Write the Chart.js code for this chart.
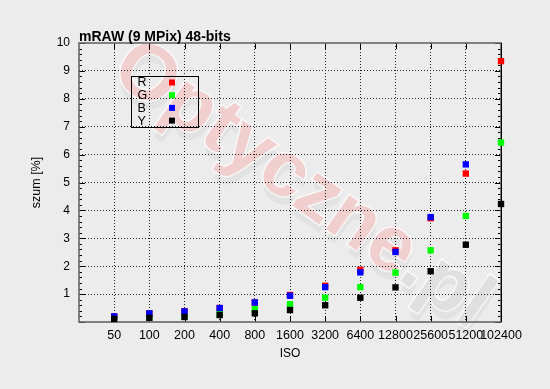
<!DOCTYPE html>
<html>
<head>
<meta charset="utf-8">
<script src="https://cdn.jsdelivr.net/npm/chart.js@4/dist/chart.umd.min.js"></script>
<style>
  html, body { margin: 0; padding: 0; background: #ececec; }
  #chart { display: block; }
</style>
</head>
<body>
<canvas id="chart" width="550" height="389"></canvas>
<script>
// ISO categories and noise values [%]
const isoLabels = ['50', '100', '200', '400', '800', '1600', '3200', '6400', '12800', '25600', '51200', '102400'];
const seriesNames = ['R', 'G', 'B', 'Y'];
const seriesColors = ['#ff0000', '#00ff00', '#0000ff', '#000000'];
const noiseR = [0.20, 0.31, 0.38, 0.50, 0.70, 0.97, 1.30, 1.87, 2.57, 3.72, 5.32, 9.35];
const noiseG = [0.12, 0.15, 0.20, 0.29, 0.46, 0.64, 0.87, 1.25, 1.77, 2.57, 3.80, 6.43];
const noiseB = [0.20, 0.31, 0.38, 0.50, 0.70, 0.94, 1.25, 1.78, 2.51, 3.76, 5.65, null];
const noiseY = [0.11, 0.15, 0.18, 0.25, 0.31, 0.43, 0.60, 0.87, 1.24, 1.82, 2.77, 4.23];
const yTicks = [0, 1, 2, 3, 4, 5, 6, 7, 8, 9, 10];

const FONT = '"Liberation Sans", Arial, sans-serif';
const allSeries = [noiseR, noiseG, noiseB, noiseY];

// background + watermark
const backdrop = {
  id: 'backdrop',
  beforeDraw(chart) {
    const ctx = chart.ctx;
    ctx.save();
    ctx.fillStyle = '#ececec';
    ctx.fillRect(0, 0, chart.width, chart.height);
    ctx.translate(302, 186);
    ctx.rotate(35 * Math.PI / 180);
    ctx.font = 'bold 78px ' + FONT;
    ctx.textBaseline = 'middle';
    const w1 = ctx.measureText('Optyczne').width;
    const w2 = ctx.measureText('.pl').width;
    const x0 = -(w1 + w2) / 2;
    ctx.fillStyle = 'rgba(0,0,0,0.04)';
    ctx.fillText('Optyczne.pl', x0 + 5, 7);
    ctx.lineWidth = 3;
    ctx.strokeStyle = 'rgba(255,255,255,0.7)';
    ctx.strokeText('Optyczne', x0, 0);
    ctx.fillStyle = '#f1cfcf';
    ctx.fillText('Optyczne', x0, 0);
    ctx.strokeText('.pl', x0 + w1, 0);
    ctx.fillStyle = '#e0e0e0';
    ctx.fillText('.pl', x0 + w1, 0);
    ctx.restore();
  }
};

// frame, inward ticks, titles and legend box
const frame = {
  id: 'frame',
  beforeDatasetsDraw(chart) {
    const { ctx, chartArea: a, scales: { x, y } } = chart;
    ctx.save();
    ctx.strokeStyle = '#000';
    ctx.lineWidth = 1;
    ctx.beginPath();
    for (let k = 0; k <= 50; k++) {
      const py = Math.round(y.getPixelForValue(k / 5)) + 0.5;
      const len = k % 5 === 0 ? 6 : 3;
      ctx.moveTo(a.left, py); ctx.lineTo(a.left + len, py);
      ctx.moveTo(a.right, py); ctx.lineTo(a.right - len, py);
    }
    for (let i = 1; i <= isoLabels.length; i++) {
      const px = Math.round(x.getPixelForValue(i)) + 0.5;
      ctx.moveTo(px, a.bottom); ctx.lineTo(px, a.bottom - 6);
      ctx.moveTo(px, a.top); ctx.lineTo(px, a.top + 6);
    }
    ctx.stroke();

    ctx.strokeStyle = '#666';
    ctx.lineWidth = 1.6;
    ctx.strokeRect(a.left, a.top, a.right - a.left, a.bottom - a.top);
    ctx.strokeStyle = '#000';
    ctx.lineWidth = 1;
    ctx.beginPath();
    ctx.moveTo(a.right + 0.5, a.top); ctx.lineTo(a.right + 0.5, a.bottom);
    ctx.stroke();

    // title
    ctx.fillStyle = '#000';
    ctx.font = 'bold 14px ' + FONT;
    ctx.textAlign = 'left';
    ctx.textBaseline = 'alphabetic';
    ctx.fillText('mRAW (9 MPix) 48-bits', a.left, 41);

    // axis titles
    ctx.font = '12px ' + FONT;
    ctx.textAlign = 'center';
    ctx.textBaseline = 'middle';
    ctx.fillText('ISO', (a.left + a.right) / 2, 354);
    ctx.save();
    ctx.translate(37, (a.top + a.bottom) / 2);
    ctx.rotate(-Math.PI / 2);
    ctx.font = '12.5px ' + FONT;
    ctx.fillText('szum [%]', 0, 0);
    ctx.restore();

    // legend
    ctx.lineWidth = 1;
    ctx.strokeStyle = '#000';
    ctx.strokeRect(131.5, 76.5, 67, 51);
    ctx.font = '12.5px ' + FONT;
    ctx.textAlign = 'left';
    seriesNames.forEach((name, i) => {
      const cy = 82.5 + i * 12.7;
      ctx.fillStyle = '#000';
      ctx.fillText(name, 137.5, cy + 0.5);
      ctx.fillStyle = seriesColors[i];
      ctx.fillRect(169, cy - 3, 6, 6);
    });
    ctx.restore();
  }
};

// later series are painted over earlier ones (Y on top)
const datasets = seriesNames.map((name, i) => ({
  label: name,
  data: isoLabels.map((iso, j) => ({ x: iso, y: allSeries[i][j] })),
  order: seriesNames.length - 1 - i,
  showLine: false,
  pointStyle: 'rect',
  pointRadius: 4.5,
  pointHoverRadius: 4.5,
  pointBorderWidth: 0,
  backgroundColor: seriesColors[i],
  borderColor: seriesColors[i],
  clip: 6
}));

new Chart(document.getElementById('chart'), {
  type: 'line',
  data: { labels: [''].concat(isoLabels), datasets },
  options: {
    responsive: false,
    animation: false,
    devicePixelRatio: 1,
    layout: { padding: { left: 0, right: 49, top: 43, bottom: 0 } },
    plugins: { legend: { display: false }, tooltip: { enabled: false }, title: { display: false } },
    scales: {
      x: {
        type: 'category',
        offset: false,
        afterFit: s => { s.height = 67; },
        border: { display: false, dash: [1, 2] },
        grid: {
          drawTicks: false,
          color: c => (c.index === 0 || c.index === isoLabels.length) ? 'rgba(0,0,0,0)' : '#222',
          lineWidth: 1
        },
        ticks: {
          autoSkip: false,
          maxRotation: 0,
          minRotation: 0,
          padding: 6,
          color: '#000',
          font: { family: FONT, size: 12.5 }
        }
      },
      y: {
        min: 0,
        max: 10,
        afterFit: s => { s.width = 79; },
        afterBuildTicks: s => { s.ticks = yTicks.map(v => ({ value: v })); },
        border: { display: false, dash: [1, 2] },
        grid: {
          drawTicks: false,
          color: c => (c.tick && (c.tick.value === 0 || c.tick.value === 10)) ? 'rgba(0,0,0,0)' : '#222',
          lineWidth: 1
        },
        ticks: {
          padding: 9,
          color: '#000',
          font: { family: FONT, size: 12 },
          callback: v => v === 0 ? '' : String(v)
        }
      }
    }
  },
  plugins: [backdrop, frame]
});
</script>
</body>
</html>
